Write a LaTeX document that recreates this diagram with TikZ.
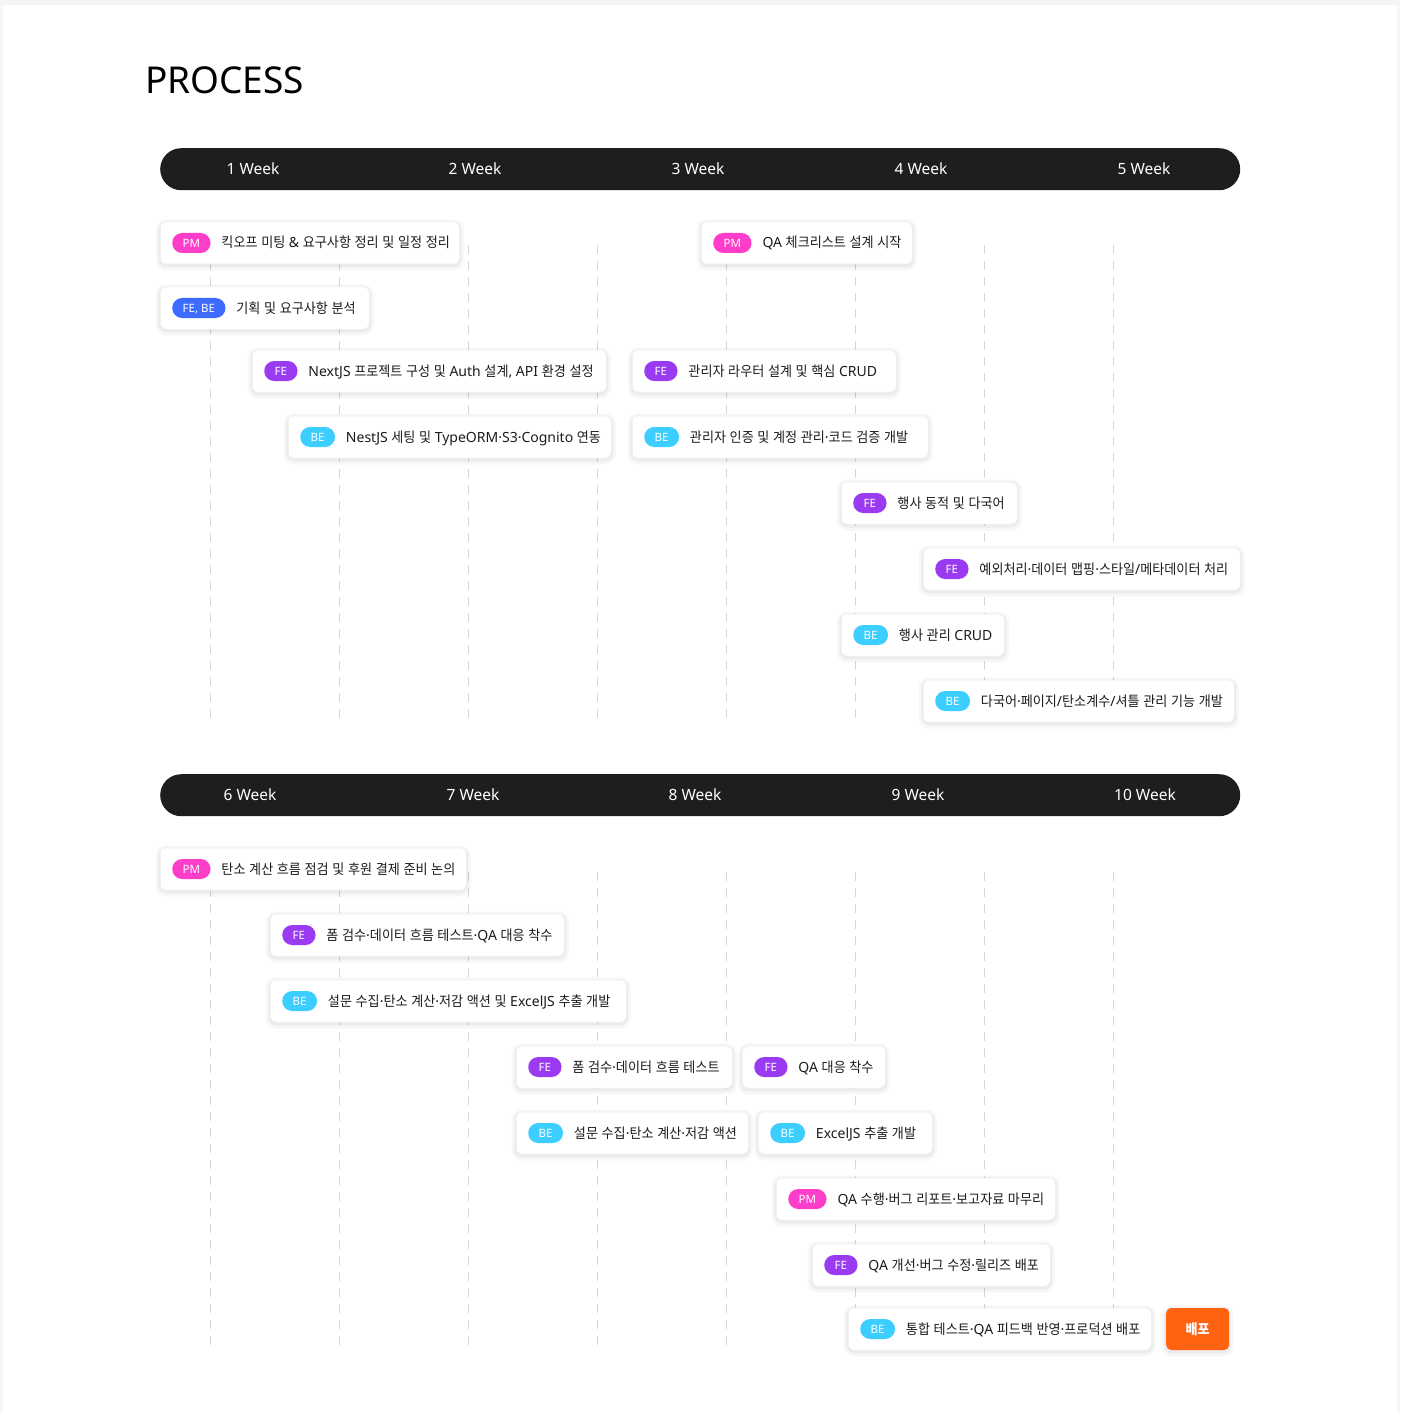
\documentclass[tikz,border=0pt]{standalone}
\usepackage{fontspec}
\setmainfont{Noto Sans}
\newfontfamily\latinfont{Noto Sans}
\newfontfamily\hangulfont[FakeStretch=0.935]{Noto Sans CJK KR}
% automatic switch between Latin and Hangul fonts
\XeTeXinterchartokenstate=1
\newXeTeXintercharclass\HangulClass
\count255="AC00
\loop
  \XeTeXcharclass\count255=\HangulClass
  \advance\count255 by 1
\ifnum\count255<"D7A4 \repeat
\XeTeXcharclass"00B7=0
\XeTeXcharclass"002F=0
\XeTeXcharclass"002C=0
\XeTeXcharclass"0026=0
\XeTeXinterchartoks 0 \HangulClass = {\hangulfont}
\XeTeXinterchartoks 4095 \HangulClass = {\hangulfont}
\XeTeXinterchartoks \HangulClass 0 = {\latinfont}
\XeTeXinterchartoks \HangulClass 4095 = {\latinfont}

\definecolor{barblack}{HTML}{1E1E1E}
\definecolor{pmc}{HTML}{FF3DCB}
\definecolor{fbc}{HTML}{3D6BFF}
\definecolor{fec}{HTML}{9A3BF2}
\definecolor{bec}{HTML}{3CCEFF}
\definecolor{orangec}{HTML}{FF6312}
\definecolor{txt}{HTML}{1C1C1C}
\definecolor{guidegray}{HTML}{D5D5D5}
\definecolor{pagegray}{HTML}{F5F5F5}

\tikzset{
  softshadow/.style={
    preaction={draw=black, draw opacity=0.03, line width=9pt, transform canvas={yshift=-2pt}},
    preaction={draw=black, draw opacity=0.045, line width=4pt, transform canvas={yshift=-1.5pt}}},
  bar/.style={fill=barblack, rounded corners=21pt, minimum width=1080pt, minimum height=42pt, inner sep=0pt, anchor=north west},
  weeklabel/.style={text=white, font=\fontsize{15.5}{18}\selectfont, inner sep=0pt, text height=11pt, text depth=0pt},
  card/.style={softshadow, fill=white, draw=black!6, line width=0.5pt, rounded corners=6pt, minimum height=42pt, inner sep=0pt, anchor=west},
  badge/.style={fill=#1, text=white, rounded corners=10pt, minimum height=20pt, inner xsep=10.5pt, inner ysep=0pt, text height=8.2pt, text depth=0pt, font=\fontsize{11.5}{13}\selectfont, anchor=west},
  tasktext/.style={text=txt, font=\fontsize{14}{16}\selectfont, inner sep=0pt, text height=10pt, text depth=0pt, anchor=west},
  deploybox/.style={softshadow, fill=orangec, rounded corners=5pt, minimum width=63pt, minimum height=42pt, inner sep=0pt, text=white, font=\fontsize{14}{16}\selectfont\bfseries, text height=10pt, text depth=0pt, anchor=west},
  guide/.style={draw=guidegray, line width=1pt, dash pattern=on 9pt off 7pt},
}

\newcommand\tasknode[7]{%
  \node[card, minimum width=#4pt] (#1) at (#2,#3) {};
  \node[badge=#5] (#1-tag) at ([xshift=12pt]#1.west) {#6};
  \node[tasktext] (#1-txt) at ([xshift=10.5pt]#1-tag.east) {#7};
}

\begin{document}
\begin{tikzpicture}[x=1pt, y=-1pt]
\useasboundingbox (0,0) rectangle (1400,1412);
\fill[pagegray] (0,0) rectangle (1400,1412);
\fill[white] (3,5) rectangle (1397,1412);

% title
\node[anchor=base west, inner sep=0pt, font=\fontsize{37}{40}\selectfont, text=black] (title) at (145,94) {PROCESS};

% guide lines
\foreach \gx [count=\i] in {210,339,468,597,726,855,984,1113} {
  \coordinate (gt\i) at (\gx,245);
  \coordinate (gb\i) at (\gx,720);
  \coordinate (ht\i) at (\gx,872);
  \coordinate (hb\i) at (\gx,1346);
  \draw[guide] (gt\i) -- (gb\i);
  \draw[guide] (ht\i) -- (hb\i);
}

% week bars
\node[bar] (bar1) at (160,148) {};
\node[weeklabel] (w1) at (253,169) {1 Week};
\node[weeklabel] (w2) at (475,169) {2 Week};
\node[weeklabel] (w3) at (698,169) {3 Week};
\node[weeklabel] (w4) at (921,169) {4 Week};
\node[weeklabel] (w5) at (1144,169) {5 Week};

\node[bar] (bar2) at (160,774) {};
\node[weeklabel] (w6) at (250,795) {6 Week};
\node[weeklabel] (w7) at (473,795) {7 Week};
\node[weeklabel] (w8) at (695,795) {8 Week};
\node[weeklabel] (w9) at (918,795) {9 Week};
\node[weeklabel] (w10) at (1145,795) {10 Week};

% weeks 1-5
\tasknode{t1}{160}{243}{299}{pmc}{PM}{킥오프 미팅 \& 요구사항 정리 및 일정 정리}
\tasknode{t2}{160}{308}{209}{fbc}{FE, BE}{기획 및 요구사항 분석}
\tasknode{t3}{252}{371}{354}{fec}{FE}{NextJS 프로젝트 구성 및 Auth 설계, API 환경 설정}
\tasknode{t4}{288}{437}{323}{bec}{BE}{NestJS 세팅 및 TypeORM·S3·Cognito 연동}
\tasknode{t5}{701}{243}{211}{pmc}{PM}{QA 체크리스트 설계 시작}
\tasknode{t6}{632}{371}{264}{fec}{FE}{관리자 라우터 설계 및 핵심 CRUD}
\tasknode{t7}{632}{437}{296}{bec}{BE}{관리자 인증 및 계정 관리·코드 검증 개발}
\tasknode{t8}{841}{503}{176}{fec}{FE}{행사 동적 및 다국어}
\tasknode{t9}{923}{569}{317}{fec}{FE}{예외처리·데이터 맵핑·스타일/메타데이터 처리}
\tasknode{t10}{841}{635}{163}{bec}{BE}{행사 관리 CRUD}
\tasknode{t11}{923}{701}{311}{bec}{BE}{다국어·페이지/탄소계수/셔틀 관리 기능 개발}

% weeks 6-10
\tasknode{b1}{160}{869}{306}{pmc}{PM}{탄소 계산 흐름 점검 및 후원 결제 준비 논의}
\tasknode{b2}{270}{935}{294}{fec}{FE}{폼 검수·데이터 흐름 테스트·QA 대응 착수}
\tasknode{b3}{270}{1001}{356}{bec}{BE}{설문 수집·탄소 계산·저감 액션 및 ExcelJS 추출 개발}
\tasknode{b4}{516}{1067}{216}{fec}{FE}{폼 검수·데이터 흐름 테스트}
\tasknode{b5}{742}{1067}{143}{fec}{FE}{QA 대응 착수}
\tasknode{b6}{516}{1133}{232}{bec}{BE}{설문 수집·탄소 계산·저감 액션}
\tasknode{b7}{758}{1133}{174}{bec}{BE}{ExcelJS 추출 개발}
\tasknode{b8}{776}{1199}{279}{pmc}{PM}{QA 수행·버그 리포트·보고자료 마무리}
\tasknode{b9}{812}{1265}{238}{fec}{FE}{QA 개선·버그 수정·릴리즈 배포}
\tasknode{b10}{848}{1329}{303}{bec}{BE}{통합 테스트·QA 피드백 반영·프로덕션 배포}
\node[deploybox] (deploy) at (1166,1329) {배포};
\end{tikzpicture}
\end{document}
